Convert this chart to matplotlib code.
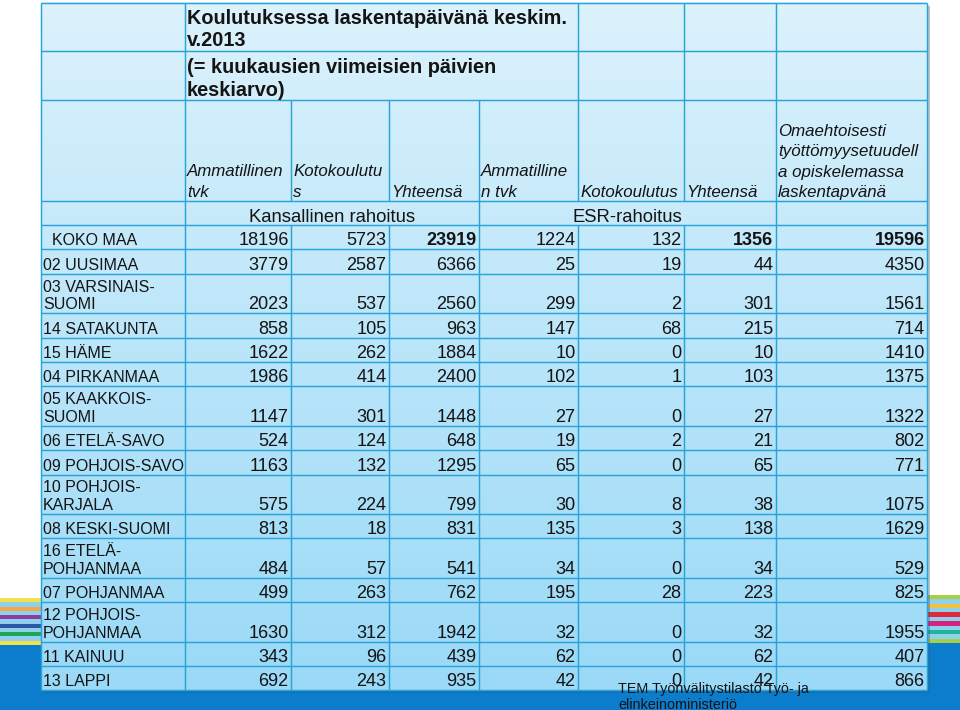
import matplotlib
matplotlib.use('Agg')
import matplotlib.pyplot as plt
import numpy as np
from matplotlib.patches import Rectangle
from matplotlib.colors import to_rgb

# ---------------- data ----------------
title_lines = ["Koulutuksessa laskentapäivänä keskim.", "v.2013"]
subtitle_lines = ["(= kuukausien viimeisien päivien", "keskiarvo)"]
col_headers = ["Ammatillinen\ntvk", "Kotokoulutu\ns", "Yhteensä",
               "Ammatilline\nn tvk", "Kotokoulutus", "Yhteensä",
               "Omaehtoisesti\ntyöttömyysetuudell\na opiskelemassa\nlaskentapvänä"]
group_labels = ["Kansallinen rahoitus", "ESR-rahoitus"]
regions = ["KOKO MAA", "02 UUSIMAA", "03 VARSINAIS-\nSUOMI", "14 SATAKUNTA", "15 HÄME",
           "04 PIRKANMAA", "05 KAAKKOIS-\nSUOMI", "06 ETELÄ-SAVO", "09 POHJOIS-SAVO",
           "10 POHJOIS-\nKARJALA", "08 KESKI-SUOMI", "16 ETELÄ-\nPOHJANMAA",
           "07 POHJANMAA", "12 POHJOIS-\nPOHJANMAA", "11 KAINUU", "13 LAPPI"]
kans_ammatillinen = [18196, 3779, 2023, 858, 1622, 1986, 1147, 524, 1163, 575, 813, 484, 499, 1630, 343, 692]
kans_kotokoulutus = [5723, 2587, 537, 105, 262, 414, 301, 124, 132, 224, 18, 57, 263, 312, 96, 243]
kans_yhteensa = [23919, 6366, 2560, 963, 1884, 2400, 1448, 648, 1295, 799, 831, 541, 762, 1942, 439, 935]
esr_ammatillinen = [1224, 25, 299, 147, 10, 102, 27, 19, 65, 30, 135, 34, 195, 32, 62, 42]
esr_kotokoulutus = [132, 19, 2, 68, 0, 1, 0, 2, 0, 8, 3, 0, 28, 0, 0, 0]
esr_yhteensa = [1356, 44, 301, 215, 10, 103, 27, 21, 65, 38, 138, 34, 223, 32, 62, 42]
omaehtoisesti = [19596, 4350, 1561, 714, 1410, 1375, 1322, 802, 771, 1075, 1629, 529, 825, 1955, 407, 866]
source_lines = ["TEM Työnvälitystilasto Työ- ja", "elinkeinoministeriö"]

columns = [kans_ammatillinen, kans_kotokoulutus, kans_yhteensa,
           esr_ammatillinen, esr_kotokoulutus, esr_yhteensa, omaehtoisesti]
bold_total_cols = {2, 5, 6}

# ---------------- layout ----------------
W, H = 960, 710
col_edges = [41, 185, 291, 389, 479, 578, 684, 776, 927]
head_edges = [3, 51, 100, 201, 225]
single_h, extra_line_h = 24.4, 15.0
row_edges = [head_edges[-1]]
for r in regions:
    n = r.count("\n") + 1
    row_edges.append(row_edges[-1] + single_h + extra_line_h * (n - 1))
tab_top, tab_bot = head_edges[0], row_edges[-1]
L, R = col_edges[0], col_edges[-1]

line_col = "#29a4d8"
txt_col = "#141414"
blue = "#0b7dcc"
stripe_sep = "#8fd0ee"
FONT = "Liberation Sans"

fig = plt.figure(figsize=(W / 100, H / 100), dpi=100)
ax = fig.add_axes([0, 0, 1, 1])
ax.axis("off")

# background: blue band and stripes
ax.add_patch(Rectangle((0, 645), L + 5, H - 645, color=blue, zorder=0))
ax.add_patch(Rectangle((R - 5, 643), W - R + 5, H - 643, color=blue, zorder=0))
ax.add_patch(Rectangle((0, 688), W, H - 688, color=blue, zorder=0))
left_stripes = ["#f2e24a", stripe_sep, "#f3a748", stripe_sep, "#8a3e9e", stripe_sep,
                "#2a58a6", stripe_sep, "#1fa552", stripe_sep, "#f2e24a"]
right_stripes = ["#a8d046", stripe_sep, "#f0c040", stripe_sep, "#e0283c", stripe_sep,
                 "#d0257a", stripe_sep, "#1fb39a", stripe_sep, "#a8d046"]
for stripes, x0, x1, y0, y1 in [(left_stripes, 0, L, 598, 645), (right_stripes, R, W, 595, 643)]:
    h = (y1 - y0) / len(stripes)
    for i, c in enumerate(stripes):
        ax.add_patch(Rectangle((x0, y0 + i * h), x1 - x0, h + 0.3, color=c, lw=0, zorder=0.5))

# shadow
ax.add_patch(Rectangle((L + 3, tab_top + 3), R - L, tab_bot - tab_top, color="#335577",
                       alpha=0.35, lw=0, zorder=0.8))

# gradient fill
c_top = np.array(to_rgb("#dcf2fc"))
c_bot = np.array(to_rgb("#9ad9f7"))
t = np.linspace(0, 1, 256)[:, None]
grad = (c_top[None, :] * (1 - t) + c_bot[None, :] * t)[:, None, :]
ax.imshow(grad, extent=[L, R, tab_bot, tab_top], aspect="auto", zorder=1, interpolation="bilinear")

lw = 1.05
# horizontal lines
for y in head_edges + row_edges[1:]:
    ax.plot([L, R], [y, y], color=line_col, lw=lw, zorder=3, solid_capstyle="butt")
# vertical lines
def vline(x, y0, y1):
    ax.plot([x, x], [y0, y1], color=line_col, lw=lw, zorder=3, solid_capstyle="butt")
for x in [41, 185, 578, 684, 776, 927]:
    vline(x, head_edges[0], head_edges[2])
for x in col_edges:
    vline(x, head_edges[2], head_edges[3])
for x in [41, 185, 479, 776, 927]:
    vline(x, head_edges[3], head_edges[4])
for x in col_edges:
    vline(x, row_edges[0], row_edges[-1])

def multiline(x, bottom_baseline, lines, spacing, **kw):
    n = len(lines)
    for i, s in enumerate(lines):
        ax.text(x, bottom_baseline - (n - 1 - i) * spacing, s, va="baseline",
                family=FONT, color=txt_col, zorder=5, **kw)

# title rows
multiline(col_edges[1] + 2, 46.5, title_lines, 23, fontsize=14.3, weight="bold", ha="left")
multiline(col_edges[1] + 2, 96.5, subtitle_lines, 23.5, fontsize=14.3, weight="bold", ha="left")

# column headers
for j, hdr in enumerate(col_headers):
    multiline(col_edges[j + 1] + 2, head_edges[3] - 4, hdr.split("\n"), 20.5,
              fontsize=12.2, style="italic", ha="left")

# group labels
ax.text((col_edges[1] + col_edges[4]) / 2, head_edges[4] - 3.5, group_labels[0], ha="center",
        va="baseline", family=FONT, fontsize=13.3, color=txt_col, zorder=5)
ax.text((col_edges[4] + col_edges[7]) / 2, head_edges[4] - 3.5, group_labels[1], ha="center",
        va="baseline", family=FONT, fontsize=13.3, color=txt_col, zorder=5)

# data rows
for i, reg in enumerate(regions):
    base = row_edges[i + 1] - 4
    x = L + 2 if i > 0 else L + 11
    multiline(x, base, reg.split("\n"), 17.7, fontsize=11.5, ha="left")
    for j, col in enumerate(columns):
        wt = "bold" if (i == 0 and j in bold_total_cols) else "normal"
        ax.text(col_edges[j + 2] - 2.5, base, f"{col[i]}", ha="right", va="baseline",
                family=FONT, fontsize=13.1, weight=wt, color=txt_col, zorder=5)

# source note
ax.text(618, 693, source_lines[0], ha="left", va="baseline", family=FONT, fontsize=10.4,
        color=txt_col, zorder=5)
ax.text(618, 709, source_lines[1], ha="left", va="baseline", family=FONT, fontsize=10.4,
        color=txt_col, zorder=5)

ax.set_xlim(0, W)
ax.set_ylim(H, 0)
fig.savefig("out.png", dpi=100)
